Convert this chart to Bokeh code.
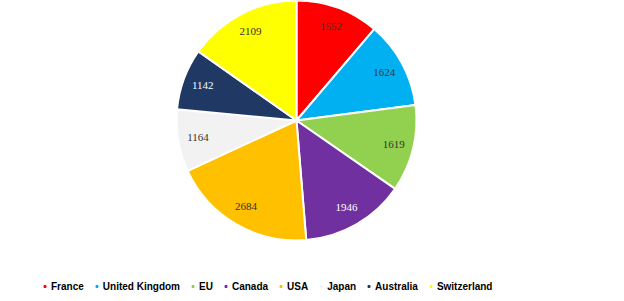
import numpy as np
from bokeh.plotting import figure
from bokeh.models import Range1d, ColumnDataSource, Legend, LegendItem
from bokeh.core.properties import value
from bokeh.embed import file_html
from bokeh.resources import INLINE

countries = ["France", "United Kingdom", "EU", "Canada", "USA", "Japan", "Australia", "Switzerland"]
values = [1552, 1624, 1619, 1946, 2684, 1164, 1142, 2109]
colors = ["#FF0000", "#00B0F0", "#92D050", "#7030A0", "#FFC000", "#F2F2F2", "#203864", "#FFFF00"]
label_colors = ["#333333", "#333333", "#333333", "#FFFFFF", "#333333", "#333333", "#FFFFFF", "#333333"]

vals = np.array(values, dtype=float)
frac = vals / vals.sum()
cum = np.cumsum(frac)
start = np.pi / 2 - (cum - frac) * 2 * np.pi
end = np.pi / 2 - cum * 2 * np.pi
mid = (start + end) / 2

R = 120
LR = 100
src = ColumnDataSource(dict(
    country=countries, value=values, color=colors, start=start, end=end,
    lx=LR * np.cos(mid), ly=LR * np.sin(mid),
    label=[str(v) for v in values], lcolor=label_colors,
))

p = figure(width=624, height=301, output_backend="svg", toolbar_location=None,
           x_range=Range1d(-296, 328), y_range=Range1d(-181, 120),
           min_border=0, outline_line_color=None)
p.axis.visible = False
p.grid.visible = False
p.background_fill_color = "white"

p.wedge(x=0, y=0, radius=R, start_angle="start", end_angle="end", direction="clock",
        fill_color="color", line_color="white", line_width=2, source=src)
p.text(x="lx", y="ly", text="label", text_color="lcolor", text_align="center",
       text_baseline="middle", text_font=value("Liberation Serif"),
       text_font_size="11px", source=src)

items = []
for c, col in zip(countries, colors):
    r = p.scatter(x=[5000], y=[5000], marker="square", size=4, fill_color=col, line_color=col)
    items.append(LegendItem(label=c, renderers=[r]))

legend = Legend(items=items, orientation="horizontal", location=(42, 9),
                glyph_width=5, glyph_height=12, label_height=12, label_width=10,
                label_standoff=4, spacing=10, padding=0, margin=0,
                border_line_color=None, background_fill_alpha=0,
                label_text_font="Liberation Sans", label_text_font_style="bold",
                label_text_font_size="10px", label_text_color="#000000")
p.add_layout(legend, "center")

open("out.html", "w").write(file_html(p, INLINE))
